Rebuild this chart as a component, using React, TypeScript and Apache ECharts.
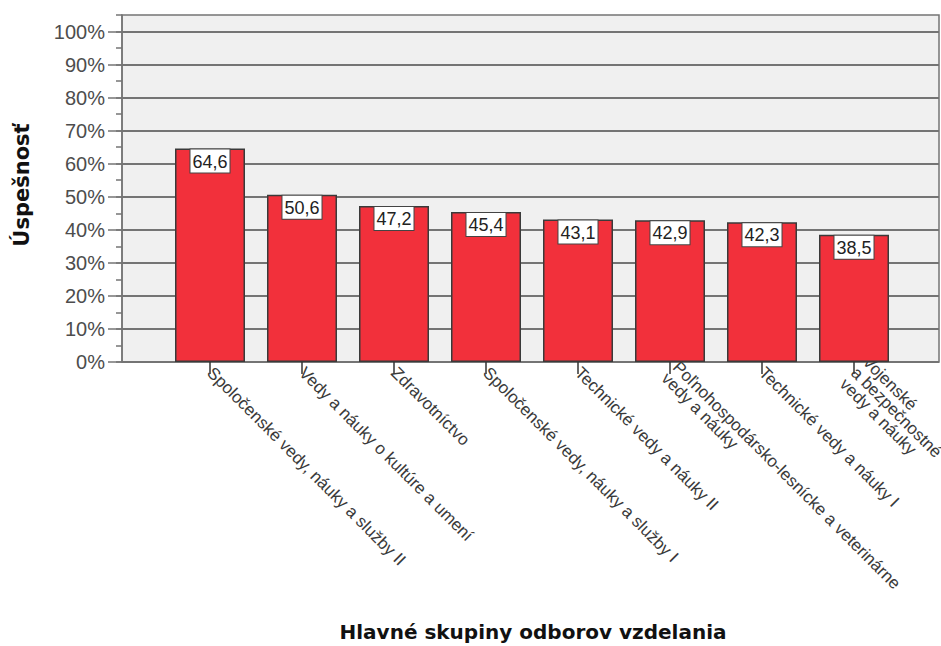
import React, { useEffect, useRef } from "react";
import * as echarts from "echarts";

const categories: string[] = [
  "Spoločenské vedy, náuky a služby II",
  "Vedy a náuky o kultúre a umení",
  "Zdravotníctvo",
  "Spoločenské vedy, náuky a služby I",
  "Technické vedy a náuky II",
  "Poľnohospodársko-lesnícke a veterinárne\nvedy a náuky",
  "Technické vedy a náuky I",
  "Vojenské\na bezpečnostné\nvedy a náuky",
];

const values: number[] = [64.6, 50.6, 47.2, 45.4, 43.1, 42.9, 42.3, 38.5];

const yTitle = "Úspešnosť";
const xTitle = "Hlavné skupiny odborov vzdelania";

export default function App() {
  const ref = useRef<HTMLDivElement>(null);

  useEffect(() => {
    if (!ref.current) return;
    const chart = echarts.init(ref.current, null, { renderer: "svg" });
    const gridLine = "#747474";
    chart.setOption({
      animation: false,
      backgroundColor: "#ffffff",
      grid: [
        {
          left: 122,
          right: 2,
          top: 15,
          bottom: 284,
          show: true,
          backgroundColor: "#f0f0f0",
          borderColor: gridLine,
          borderWidth: 1.5,
          outerBoundsMode: "none",
          z: -1,
        },
        { left: 122, right: 2, top: 31.5, bottom: 284, outerBoundsMode: "none" },
        { left: 164, right: 41, top: 15, bottom: 284, outerBoundsMode: "none" },
      ],
      xAxis: [
        {
          type: "value",
          gridIndex: 0,
          show: false,
        },
        {
          type: "value",
          gridIndex: 1,
          show: false,
        },
        {
          type: "category",
          gridIndex: 2,
          data: categories,
          axisLine: { show: false },
          axisTick: {
            show: true,
            alignWithLabel: true,
            length: 12,
            lineStyle: { color: "#333333", width: 1.5 },
          },
          axisLabel: {
            rotate: -45,
            interval: 0,
            margin: 8,
            fontFamily: "Liberation Sans, Arial, sans-serif",
            fontSize: 17,
            lineHeight: 16,
            color: "#3a3a3a",
          },
        },
      ],
      yAxis: [
        {
          type: "value",
          gridIndex: 0,
          min: 0,
          max: 105,
          interval: 5,
          axisLine: { show: true, lineStyle: { color: gridLine, width: 1.5 } },
          axisTick: { show: true, length: 6, lineStyle: { color: gridLine, width: 1.5 } },
          axisLabel: { show: false },
          splitLine: { show: false },
        },
        {
          type: "value",
          gridIndex: 1,
          min: 0,
          max: 100,
          interval: 10,
          axisLine: { show: false },
          axisTick: { show: true, length: 14, lineStyle: { color: gridLine, width: 1.5 } },
          axisLabel: {
            margin: 17,
            formatter: (v: number) => v + "%",
            fontFamily: "Liberation Sans, Arial, sans-serif",
            fontSize: 20,
            color: "#4d4d4d",
          },
          splitLine: { show: true, lineStyle: { color: gridLine, width: 2 } },
        },
        {
          type: "value",
          gridIndex: 2,
          min: 0,
          max: 105,
          show: false,
        },
      ],
      series: [
        {
          type: "bar",
          xAxisIndex: 2,
          yAxisIndex: 2,
          data: values,
          barWidth: 70,
          itemStyle: {
            color: "#f2303b",
            borderColor: "#3a3a3a",
            borderWidth: 1.5,
          },
          label: {
            show: true,
            position: "insideTop",
            distance: 1,
            formatter: (p: any) => String(p.value).replace(".", ","),
            fontFamily: "Liberation Sans, Arial, sans-serif",
            fontSize: 18,
            color: "#222222",
            backgroundColor: "#ffffff",
            borderColor: "#444444",
            borderWidth: 1,
            padding: [3, 2, 2, 2],
          },
        },
      ],
      graphic: [
        {
          type: "text",
          x: 22,
          y: 185,
          rotation: Math.PI / 2,
          style: {
            text: yTitle,
            align: "center",
            verticalAlign: "middle",
            fontFamily: "DejaVu Sans, Verdana, sans-serif",
            fontWeight: "bold",
            fontSize: 21,
            fill: "#111111",
          },
        },
        {
          type: "text",
          x: 533,
          y: 632,
          style: {
            text: xTitle,
            align: "center",
            verticalAlign: "middle",
            fontFamily: "DejaVu Sans, Verdana, sans-serif",
            fontWeight: "bold",
            fontSize: 20,
            fill: "#111111",
          },
        },
      ],
    });
    return () => chart.dispose();
  }, []);

  return (
    <div
      ref={ref}
      style={{ position: "fixed", left: 0, top: 0, width: 941, height: 646 }}
    />
  );
}
